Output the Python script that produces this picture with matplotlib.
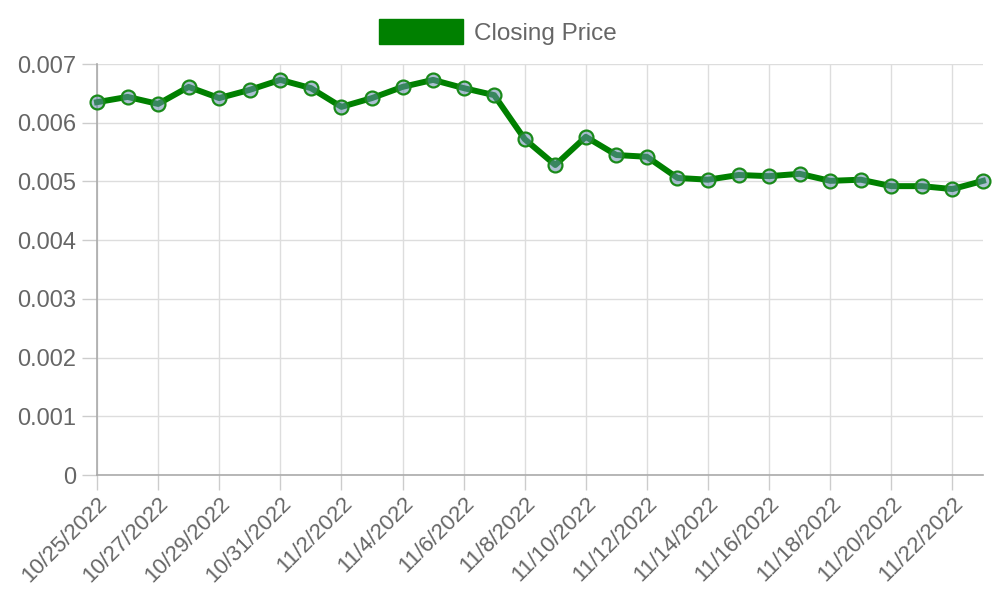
import matplotlib
matplotlib.use('Agg')
import matplotlib.pyplot as plt
from matplotlib.patches import Patch

dates = ['10/25/2022', '10/26/2022', '10/27/2022', '10/28/2022', '10/29/2022',
         '10/30/2022', '10/31/2022', '11/1/2022', '11/2/2022', '11/3/2022',
         '11/4/2022', '11/5/2022', '11/6/2022', '11/7/2022', '11/8/2022',
         '11/9/2022', '11/10/2022', '11/11/2022', '11/12/2022', '11/13/2022',
         '11/14/2022', '11/15/2022', '11/16/2022', '11/17/2022', '11/18/2022',
         '11/19/2022', '11/20/2022', '11/21/2022', '11/22/2022', '11/23/2022']
closing = [0.00635, 0.00644, 0.00632, 0.00661, 0.00642,
           0.00656, 0.00673, 0.00659, 0.00627, 0.00642,
           0.00661, 0.00673, 0.00659, 0.00647, 0.00572,
           0.00528, 0.00576, 0.00545, 0.00542, 0.00506,
           0.00503, 0.00511, 0.00509, 0.00513, 0.00501,
           0.00503, 0.00492, 0.00492, 0.00487, 0.00501]
yticks = [0, 0.001, 0.002, 0.003, 0.004, 0.005, 0.006, 0.007]
ytick_labels = ['0', '0.001', '0.002', '0.003', '0.004', '0.005', '0.006', '0.007']

plt.rcParams['font.family'] = ['Liberation Sans', 'DejaVu Sans']
txt = '#666666'

fig = plt.figure(figsize=(10, 6), dpi=100)
ax = fig.add_axes([0.097, 0.2083, 0.886, 0.685])

x = list(range(len(dates)))
ax.plot(x, closing, color='#008000', linewidth=4.3, marker='o', markersize=10,
        markerfacecolor=(0.4, 0.55, 0.68, 0.55), markeredgecolor='#1a8a1a',
        markeredgewidth=1.6, zorder=3, clip_on=False)

ax.set_xlim(0, len(dates) - 1)
ax.set_ylim(0, 0.007)
ax.set_yticks(yticks)
ax.set_yticklabels(ytick_labels)
ax.set_xticks(x[::2])
ax.set_xticklabels(dates[::2], rotation=45, ha='right', rotation_mode='anchor')

ax.grid(True, color='#dddddd', linewidth=1)
for s in ['top', 'right']:
    ax.spines[s].set_visible(False)
for s in ['left', 'bottom']:
    ax.spines[s].set_color('#aaaaaa')
    ax.spines[s].set_linewidth(1.2)
ax.tick_params(axis='both', colors='#cccccc', length=11, width=1)
ax.tick_params(axis='y', labelsize=17, labelcolor=txt, pad=4)
ax.tick_params(axis='x', labelsize=16, labelcolor=txt, pad=2)

handle = Patch(facecolor='#008000', edgecolor='#008000')
fig.legend(handles=[handle], labels=['Closing Price'], loc='center',
           bbox_to_anchor=(0.498, 0.947), frameon=False, fontsize=17.5,
           labelcolor=txt, handlelength=3.45, handleheight=1.2, handletextpad=0.45)

fig.savefig('out.png', dpi=100)
